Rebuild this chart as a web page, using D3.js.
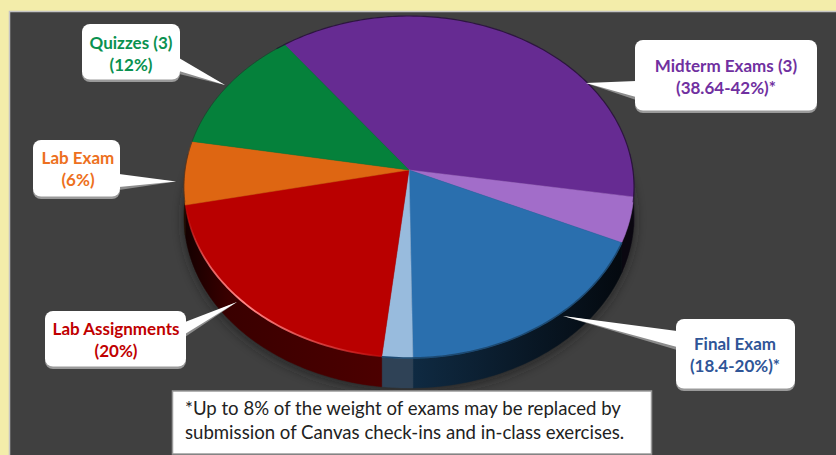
<!DOCTYPE html>
<html><head><meta charset="utf-8">
<script src="https://cdn.jsdelivr.net/npm/d3@7"></script>
<style>html,body{margin:0;padding:0;background:#f3edaa;overflow:hidden}svg{display:block}</style>
</head><body><svg id="c" width="836" height="455"></svg>
<script>
// ---- data ----
const categories = ["Midterm Exams","Midterm Exams (replaceable)","Final Exam","Final Exam (replaceable)","Lab Assignments","Lab Exam","Quizzes"];
const values = [37.75,4.25,18.0,2.0,20,6,12];
const topColors = ["#662b92","#a26dc9","#2a6fae","#98bbdd","#b90000","#de6612","#05813b"];
const sideColors = [["#0c0614","#1a0c26"],["#0a0710","#0a0710"],["#0f2a42","#04090f"],["#2f4256","#2f4256"],["#140000","#4c0000"],["#200c00","#200c00"],["#001000","#001000"]];
const labelLines = [["Midterm Exams (3)","(38.64-42%)*"],["Final Exam","(18.4-20%)*"],["Lab Assignments","(20%)"],["Lab Exam","(6%)"],["Quizzes (3)","(12%)"]];
const labelColors = ["#7030a0","#2f5597","#c00000","#ed7020","#0a9150"];
const noteLines = ["*Up to 8% of the weight of exams may be replaced by","submission of Canvas check-ins and in-class exercises."];

// ---- layout ----
const W=836,H=455;
const cx=409,cy=170,A=223.9,B=169.3,K=0.0994,depth=30;
const startDeg=-36.9;
// callout box [x,y,w,h], wedge base on box edge [x1,y1,x2,y2], wedge tip [x,y], text centre x, baselines
const callouts=[
 {box:[635,40,182,72],base:[636,81,636,98],tip:[586,83],tx:726,by:[72,94]},
 {box:[676,319,119,71],base:[677,331,677,348],tip:[563,316],tx:735,by:[350,372]},
 {box:[45,311,141,57],base:[185,322,185,335],tip:[237,302],tx:116,by:[335,357]},
 {box:[33,140,87,58],base:[119,174,119,188],tip:[176,181.5],tx:78,by:[164,186]},
 {box:[82,24,98,57],base:[179,58,179,72],tip:[225,85],tx:131,by:[49,71]}
];

const svg=d3.select("#c");
const defs=svg.append("defs");
defs.append("filter").attr("id","soft").attr("x","-20%").attr("y","-20%").attr("width","140%").attr("height","140%")
  .append("feGaussianBlur").attr("stdDeviation",6);
defs.append("filter").attr("id","edge").append("feGaussianBlur").attr("stdDeviation",0.7);

// projected disc: angle (radians, clockwise from top) -> screen point
const rim=(t,dy=0,f=1)=>{
  const u=f*Math.sin(t),v=-f*Math.cos(t),w=1-K*v;
  return [cx+A*u/w,cy+B*v/w+dy];
};
const line=d3.line().curve(d3.curveLinear);
const pie=d3.pie().sort(null).startAngle(startDeg*Math.PI/180).endAngle((startDeg+360)*Math.PI/180);
const arcs=pie(values);
const samples=(a,b)=>{const n=Math.max(2,Math.ceil((b-a)*180/Math.PI));return d3.range(n+1).map(i=>a+(b-a)*i/n);};

// background
svg.append("rect").attr("width",W).attr("height",H).attr("fill","#f3edaa");
svg.append("rect").attr("x",9.5).attr("y",11.5).attr("width",W).attr("height",H).attr("fill","#404040").attr("stroke","#c4c4c4").attr("stroke-width",1.5);

// soft shadow below the pie
const sideA=Math.PI*0.47,sideB=Math.PI*1.53;
const whole=samples(0,2*Math.PI);
svg.append("path")
  .attr("d",line(whole.map(t=>rim(t,depth+3)))+"Z")
  .attr("fill","#1c1c1c").attr("opacity",.75).attr("filter","url(#soft)");

// side wall
const sideG=svg.append("g");
arcs.forEach((d,i)=>{
  const a=Math.max(d.startAngle,sideA),b=Math.min(d.endAngle,sideB);
  if(b<=a) return;
  const ts=samples(a,b);
  const gid="sg"+i;
  const gr=defs.append("linearGradient").attr("id",gid).attr("gradientUnits","userSpaceOnUse")
    .attr("x1",d3.min(ts,t=>rim(t)[0])).attr("x2",d3.max(ts,t=>rim(t)[0])).attr("y1",0).attr("y2",0);
  const [c0,c1]=sideColors[i];
  if(i===4){
    gr.append("stop").attr("offset",0).attr("stop-color",c0);
    gr.append("stop").attr("offset",.22).attr("stop-color","#3a0000");
    gr.append("stop").attr("offset",1).attr("stop-color",c1);
  } else {
    gr.append("stop").attr("offset",0).attr("stop-color",c0);
    gr.append("stop").attr("offset",1).attr("stop-color",c1);
  }
  const pts=ts.map(t=>rim(t)).concat(ts.slice().reverse().map(t=>rim(t,depth)));
  sideG.append("path").attr("d",line(pts)+"Z").attr("fill",`url(#${gid})`).attr("stroke",`url(#${gid})`).attr("stroke-width",.5);
});

// top face
const topG=svg.append("g");
topG.selectAll("path").data(arcs).join("path")
  .attr("d",d=>line([[cx,cy]].concat(samples(d.startAngle,d.endAngle).map(t=>rim(t))))+"Z")
  .attr("fill",(d,i)=>topColors[i]).attr("stroke",(d,i)=>topColors[i]).attr("stroke-width",.5);

// dark outline on the rear rim
svg.append("path").attr("d",line(samples(-Math.PI*0.22,Math.PI*0.56).map(t=>rim(t))))
  .attr("fill","none").attr("stroke","#20102e").attr("stroke-width",1.2).attr("opacity",.8);
svg.append("path").attr("d",line(samples(Math.PI*1.44,Math.PI*1.78).map(t=>rim(t))))
  .attr("fill","none").attr("stroke","#2a2a2a").attr("stroke-width",1).attr("opacity",.6);

// highlight along the front rim of the red slice
const red=arcs[4];
const hg=defs.append("linearGradient").attr("id","hl").attr("gradientUnits","userSpaceOnUse")
  .attr("x1",rim(red.endAngle)[0]).attr("x2",rim(red.startAngle)[0]).attr("y1",0).attr("y2",0);
[[0,0],[.12,.7],[.3,1],[.65,.5],[1,.05]].forEach(([o,a])=>hg.append("stop").attr("offset",o).attr("stop-color","#ff8888").attr("stop-opacity",a));
svg.append("path").attr("d",line(samples(red.startAngle,red.endAngle).map(t=>rim(t,-.5))))
  .attr("fill","none").attr("stroke","url(#hl)").attr("stroke-width",1.8).attr("filter","url(#edge)");
// blurred edge on the blue slices
const blue=arcs[2],lb=arcs[3];
svg.append("path").attr("d",line(samples(blue.startAngle,lb.endAngle).map(t=>rim(t))))
  .attr("fill","none").attr("stroke","#1d4a72").attr("stroke-width",1.6).attr("filter","url(#edge)");

// callouts
const font="Lato, 'Open Sans', sans-serif";
callouts.forEach((c,i)=>{
  const g=svg.append("g");
  const [x,y,w,h]=c.box,[x1,y1,x2,y2]=c.base,[tx,ty]=c.tip;
  g.append("path").attr("d",line([[x1,y1+2],[x2,y2+2],[tx,ty]])+"Z").attr("fill","#8c8c8c");
  g.append("rect").attr("x",x).attr("y",y+2).attr("width",w).attr("height",h-1).attr("rx",8).attr("fill","#9a9a9a");
  g.append("rect").attr("x",x).attr("y",y).attr("width",w).attr("height",h-1.5).attr("rx",8).attr("fill","#fff");
  g.append("path").attr("d",line([[x1,y1],[x2,y2-1],[tx,ty]])+"Z").attr("fill","#fff");
  g.selectAll("text").data(labelLines[i]).join("text")
    .attr("x",c.tx).attr("y",(d,j)=>c.by[j]).attr("text-anchor","middle")
    .attr("font-family",font).attr("font-weight",700).attr("font-size",17)
    .attr("fill",labelColors[i]).text(d=>d);
});

// note
svg.append("rect").attr("x",172.5).attr("y",391).attr("width",479).attr("height",63)
  .attr("fill","#fff").attr("stroke","#9a9a9a").attr("stroke-width",1.5);
svg.selectAll("text.note").data(noteLines).join("text").attr("class","note")
  .attr("x",185).attr("y",(d,i)=>415+i*24).attr("font-family",font).attr("font-size",18.6).attr("fill","#222").text(d=>d);
</script></body></html>
